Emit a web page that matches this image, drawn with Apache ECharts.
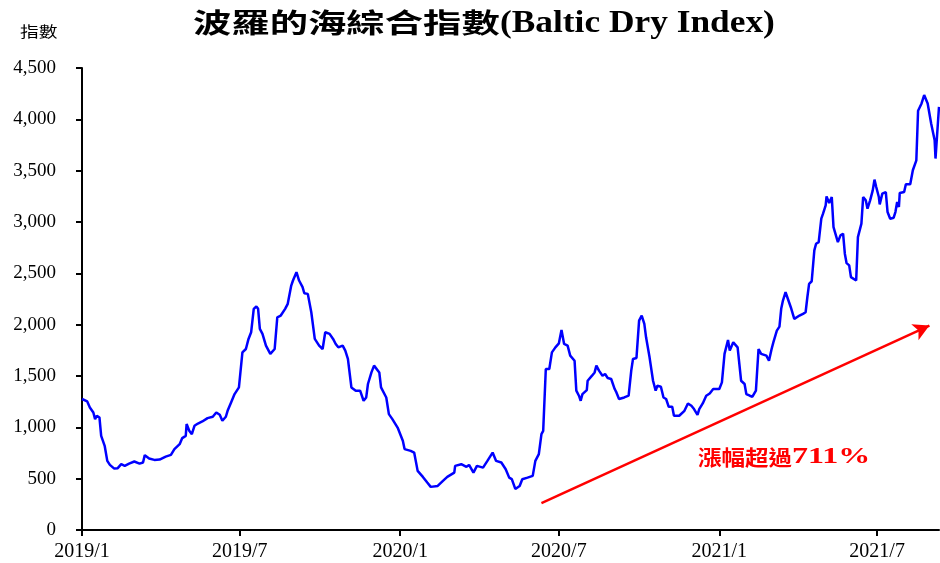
<!DOCTYPE html>
<html><head><meta charset="utf-8">
<script src="https://cdn.jsdelivr.net/npm/echarts@6/dist/echarts.min.js"></script>
<style>html,body{margin:0;padding:0;background:#fff}#c{width:940px;height:563px}</style>
</head><body><div id="c"></div>
<script>
// ---- data ----
const dates = [
'2019-01-01','2019-01-07','2019-01-10','2019-01-14','2019-01-16','2019-01-18','2019-01-21','2019-01-23','2019-01-27','2019-01-30',
'2019-02-02','2019-02-07','2019-02-11','2019-02-15','2019-02-19','2019-02-24','2019-03-02','2019-03-08','2019-03-12','2019-03-14',
'2019-03-19','2019-03-25','2019-03-31','2019-04-02','2019-04-07','2019-04-13','2019-04-17','2019-04-23','2019-04-26','2019-04-30',
'2019-05-01','2019-05-04','2019-05-07','2019-05-10','2019-05-14','2019-05-19','2019-05-25','2019-05-31','2019-06-04','2019-06-08',
'2019-06-11','2019-06-15','2019-06-17','2019-06-21','2019-06-25','2019-06-30','2019-07-04','2019-07-08','2019-07-11','2019-07-14',
'2019-07-17','2019-07-20','2019-07-22','2019-07-24','2019-07-27','2019-07-31','2019-08-05','2019-08-10','2019-08-13','2019-08-17',
'2019-08-19','2019-08-22','2019-08-25','2019-08-29','2019-08-31','2019-09-04','2019-09-07','2019-09-11','2019-09-13','2019-09-17',
'2019-09-21','2019-09-23','2019-09-25','2019-09-30','2019-10-04','2019-10-07','2019-10-12','2019-10-16','2019-10-19','2019-10-22',
'2019-10-27','2019-10-30','2019-11-02','2019-11-06','2019-11-11','2019-11-16','2019-11-20','2019-11-23','2019-11-25','2019-11-29',
'2019-12-02','2019-12-08','2019-12-10','2019-12-16','2019-12-19','2019-12-23','2019-12-29','2020-01-04','2020-01-06','2020-01-13',
'2020-01-17','2020-01-21','2020-01-27','2020-02-01','2020-02-05','2020-02-13','2020-02-19','2020-02-24','2020-03-03','2020-03-04',
'2020-03-11','2020-03-17','2020-03-20','2020-03-25','2020-03-29','2020-04-05','2020-04-10','2020-04-16','2020-04-20','2020-04-26',
'2020-05-01','2020-05-05','2020-05-08','2020-05-12','2020-05-17','2020-05-20','2020-05-26','2020-06-01','2020-06-04','2020-06-08',
'2020-06-11','2020-06-13','2020-06-16','2020-06-20','2020-06-23','2020-06-27','2020-07-01','2020-07-04','2020-07-07','2020-07-11',
'2020-07-14','2020-07-19','2020-07-21','2020-07-24','2020-07-26','2020-07-28','2020-08-02','2020-08-03','2020-08-08','2020-08-11',
'2020-08-13','2020-08-16','2020-08-20','2020-08-23','2020-08-26','2020-08-30','2020-09-03','2020-09-05','2020-09-08','2020-09-14',
'2020-09-19','2020-09-22','2020-09-24','2020-09-28','2020-10-01','2020-10-04','2020-10-07','2020-10-09','2020-10-13','2020-10-17',
'2020-10-20','2020-10-22','2020-10-26','2020-10-29','2020-11-01','2020-11-04','2020-11-08','2020-11-10','2020-11-16','2020-11-22',
'2020-11-26','2020-11-30','2020-12-03','2020-12-07','2020-12-09','2020-12-13','2020-12-17','2020-12-21','2020-12-25','2021-01-01',
'2021-01-04','2021-01-07','2021-01-11','2021-01-13','2021-01-17','2021-01-22','2021-01-26','2021-01-30','2021-02-01','2021-02-05',
'2021-02-08','2021-02-12','2021-02-15','2021-02-18','2021-02-24','2021-02-27','2021-03-02','2021-03-04','2021-03-08','2021-03-11',
'2021-03-13','2021-03-15','2021-03-18','2021-03-20','2021-03-24','2021-03-28','2021-04-03','2021-04-07','2021-04-10','2021-04-12',
'2021-04-14','2021-04-17','2021-04-20','2021-04-22','2021-04-25','2021-04-28','2021-04-30','2021-05-03','2021-05-04','2021-05-07',
'2021-05-10','2021-05-12','2021-05-17','2021-05-20','2021-05-23','2021-05-25','2021-05-27','2021-05-30','2021-06-01','2021-06-07',
'2021-06-09','2021-06-13','2021-06-15','2021-06-18','2021-06-20','2021-06-23','2021-06-26','2021-06-28','2021-06-30','2021-07-03',
'2021-07-04','2021-07-07','2021-07-11','2021-07-13','2021-07-16','2021-07-20','2021-07-22','2021-07-24','2021-07-26','2021-07-27',
'2021-08-01','2021-08-03','2021-08-08','2021-08-11','2021-08-15','2021-08-17','2021-08-21','2021-08-24','2021-08-28','2021-09-01',
'2021-09-05','2021-09-06','2021-09-10'
];
const values = [
1276,1252,1194,1145,1080,1113,1096,917,820,673,
634,598,602,641,625,647,667,647,657,729,
696,683,686,673,715,732,788,836,895,917,
1032,966,934,1015,1037,1057,1090,1103,1145,1122,
1064,1103,1161,1242,1324,1389,1730,1763,1861,1926,
2154,2177,2154,1959,1910,1796,1715,1763,2072,2089,
2072,2154,2203,2381,2430,2511,2430,2365,2306,2300,
2121,2105,1861,1796,1763,1926,1910,1861,1812,1779,
1796,1747,1666,1389,1357,1357,1259,1291,1422,1535,
1601,1535,1389,1291,1129,1080,998,869,788,771,
754,576,517,462,420,429,478,517,559,625,
641,615,634,559,625,608,673,754,673,657,
592,510,495,400,429,495,510,527,673,739,
934,966,1568,1568,1730,1779,1818,1949,1812,1796,
1698,1649,1357,1308,1259,1324,1363,1454,1503,1535,
1601,1552,1503,1519,1481,1471,1373,1340,1276,1291,
1308,1552,1666,1676,2040,2089,2007,1877,1682,1454,
1357,1405,1396,1291,1276,1200,1200,1113,1113,1161,
1233,1210,1178,1122,1178,1233,1308,1330,1373,1373,
1438,1715,1851,1747,1828,1779,1454,1422,1324,1308,
1298,1357,1763,1715,1698,1649,1763,1828,1942,1981,
2154,2235,2316,2267,2170,2056,2089,2105,2121,2267,
2398,2423,2723,2788,2804,3032,3081,3162,3250,3185,
3243,2950,2804,2870,2886,2691,2599,2577,2463,2430,
2853,2984,3243,3211,3130,3211,3308,3413,3341,3243,
3172,3276,3292,3097,3032,3042,3097,3194,3146,3283,
3292,3367,3367,3504,3601,4083,4155,4236,4155,3960,
3797,3618,4122
];
const xTickDates = ['2019-01-01','2019-07-01','2020-01-01','2020-07-01','2021-01-01','2021-07-01'];
const yMin = 0, yMax = 4500, yStep = 500;
const arrowStart = ['2020-06-11', 261];
const arrowEnd = ['2021-08-30', 1991];
const titleCJK = '波羅的海綜合指數';
const titleEN = '(Baltic Dry Index)';
const unitLabel = '指數';
const noteCJK = '漲幅超過';
const notePct = '711%';

function ts(s){ const p = s.split('-').map(Number); return Date.UTC(p[0], p[1]-1, p[2]); }

const chart = echarts.init(document.getElementById('c'), null, {renderer:'canvas'});
chart.setOption({
  animation: false,
  grid: {left: 82, right: 1, top: 68, bottom: 33, containLabel: false},
  xAxis: {
    type: 'value',
    min: ts(dates[0]), max: ts(dates[dates.length-1]),
    axisLine: {lineStyle: {color: '#000', width: 2}},
    axisTick: {show: true, customValues: xTickDates.map(ts), length: 6, lineStyle: {color: '#000', width: 2}},
    axisLabel: {
      customValues: xTickDates.map(ts),
      formatter: function(v){ const d = new Date(v); return d.getUTCFullYear() + '/' + (d.getUTCMonth()+1); },
      color: '#000', fontFamily: 'Liberation Serif', fontSize: 20, margin: 12
    },
    splitLine: {show: false}
  },
  yAxis: {
    type: 'value', min: yMin, max: yMax, interval: yStep,
    axisLine: {show: true, lineStyle: {color: '#000', width: 2}},
    axisTick: {show: true, length: 6, lineStyle: {color: '#000', width: 2}},
    axisLabel: {formatter: function(v){ return v.toLocaleString('en-US'); }, color: '#000', fontFamily: 'Liberation Serif', fontSize: 19, margin: 26},
    splitLine: {show: false}
  },
  series: [{
    type: 'line',
    data: dates.map(function(d, i){ return [ts(d), values[i]]; }),
    showSymbol: false, symbol: 'none',
    lineStyle: {color: '#0000FF', width: 2.5},
    markLine: {
      silent: true, symbol: ['none', 'arrow'], symbolSize: [13, 16],
      label: {show: false},
      lineStyle: {color: '#FF0000', width: 2.5, type: 'solid'},
      data: [[{coord: [ts(arrowStart[0]), arrowStart[1]]}, {coord: [ts(arrowEnd[0]), arrowEnd[1]]}]]
    }
  }],
  graphic: [
    {type: 'text', x: 193, y: 23, scaleX: 1.42, style: {text: titleCJK, fontSize: 27, fontWeight: 'bold', fontFamily: '"Noto Sans CJK TC"', fill: '#000', align: 'left', verticalAlign: 'middle'}},
    {type: 'text', x: 500, y: 24, scaleX: 1.14, style: {text: titleEN, fontSize: 31, fontWeight: 'bold', fontFamily: '"Liberation Serif"', fill: '#000', align: 'left', verticalAlign: 'middle'}},
    {type: 'text', x: 20, y: 31, scaleX: 1.25, style: {text: unitLabel, fontSize: 15, fontFamily: '"Noto Sans CJK TC"', fill: '#000', align: 'left', verticalAlign: 'middle'}},
    {type: 'text', x: 698, y: 457, scaleX: 1.12, style: {text: noteCJK, fontSize: 21, fontWeight: 'bold', fontFamily: '"Noto Sans CJK TC"', fill: '#FF0000', align: 'left', verticalAlign: 'middle'}},
    {type: 'text', x: 792, y: 457, scaleX: 1.39, style: {text: notePct, fontSize: 23, fontWeight: 'bold', fontFamily: '"Liberation Serif"', fill: '#FF0000', align: 'left', verticalAlign: 'middle'}}
  ]
});
</script>
</body></html>
